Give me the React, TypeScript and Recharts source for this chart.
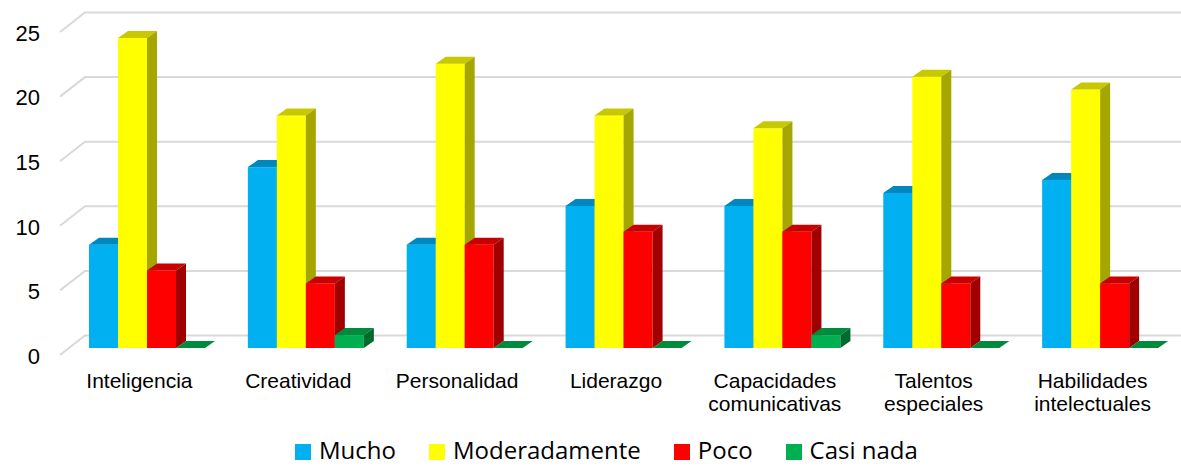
import React from "react"
import { BarChart, Bar, XAxis, YAxis, CartesianGrid } from "recharts"

const categories = [
  "Inteligencia",
  "Creatividad",
  "Personalidad",
  "Liderazgo",
  "Capacidades comunicativas",
  "Talentos especiales",
  "Habilidades intelectuales",
]
const mucho = [8, 14, 8, 11, 11, 12, 13]
const moderadamente = [24, 18, 22, 18, 17, 21, 20]
const poco = [6, 5, 8, 9, 9, 5, 5]
const casiNada = [0, 1, 0, 0, 1, 0, 0]
const yTicks = [0, 5, 10, 15, 20, 25]

const series = [
  { key: "mucho", name: "Mucho", values: mucho, front: "#00B0F0", top: "#0088BE", side: "#006F9C" },
  { key: "moderadamente", name: "Moderadamente", values: moderadamente, front: "#FFFF00", top: "#C8C800", side: "#A6A600" },
  { key: "poco", name: "Poco", values: poco, front: "#FF0000", top: "#C80000", side: "#A00000" },
  { key: "casiNada", name: "Casi nada", values: casiNada, front: "#00B050", top: "#008A3C", side: "#006B2C" },
]

const data = categories.map((name, i) => {
  const row: Record<string, string | number> = { name }
  series.forEach((s) => (row[s.key] = s.values[i]))
  return row
})

// fake 3d: bar sits a bit behind the front plane
const LIFT = 7
const DX = 10
const DY = 7

function Box3D(props: any) {
  const { x, y, width, height, front, top, side } = props
  if (x == null || y == null) return null
  const w = width
  const yt = y - LIFT
  const yb = y + height - LIFT
  return (
    <g>
      {height > 0 && <rect x={x} y={yt} width={w} height={yb - yt} fill={front} />}
      <polygon
        points={`${x},${yt} ${x + DX},${yt - DY} ${x + w + DX},${yt - DY} ${x + w},${yt}`}
        fill={top}
      />
      {height > 0 && (
        <polygon
          points={`${x + w},${yt} ${x + w + DX},${yt - DY} ${x + w + DX},${yb - DY} ${x + w},${yb}`}
          fill={side}
        />
      )}
    </g>
  )
}

function GridLine(props: any) {
  const { x1, y1, x2 } = props
  return (
    <path
      d={`M${x1 - 7},${y1} L${x1 + 18},${y1 - 19.5} L${x2 + 3},${y1 - 19.5}`}
      stroke="#D9D9D9"
      strokeWidth={2}
      fill="none"
    />
  )
}

function CategoryTick(props: any) {
  const { x, y, payload } = props
  const lines = String(payload.value).split(" ")
  return (
    <text
      x={x - 7}
      y={y + 25}
      textAnchor="middle"
      fontFamily="'Liberation Sans', Arial, sans-serif"
      fontSize={21}
      fill="#000"
    >
      {lines.map((l, i) => (
        <tspan key={i} x={x - 7} dy={i === 0 ? 0 : 23}>
          {l}
        </tspan>
      ))}
    </text>
  )
}

export default function App() {
  return (
    <div style={{ position: "absolute", left: 0, top: 0, width: 1181, height: 467, background: "#fff" }}>
      <BarChart
        width={1181}
        height={467}
        data={data}
        margin={{ top: 32, right: 2, left: 0, bottom: 0 }}
        barCategoryGap={22}
        barGap={0}
      >
        <CartesianGrid vertical={false} horizontal={(p: any) => <GridLine {...p} />} />
        <XAxis
          dataKey="name"
          axisLine={false}
          tickLine={false}
          height={112}
          interval={0}
          tick={<CategoryTick />}
        />
        <YAxis
          domain={[0, 25]}
          ticks={yTicks}
          width={67}
          axisLine={false}
          tickLine={false}
          tickSize={0}
          tickMargin={27}
          tick={{ fontSize: 22, fill: "#000", fontFamily: "'Liberation Sans', Arial, sans-serif", dy: 1 }}
        />
        {series.map((s) => (
          <Bar
            key={s.key}
            dataKey={s.key}
            name={s.name}
            fill={s.front}
            isAnimationActive={false}
            shape={(p: any) => <Box3D {...p} front={s.front} top={s.top} side={s.side} />}
          />
        ))}
      </BarChart>
      <div
        style={{
          position: "absolute",
          top: 438,
          left: 295,
          display: "flex",
          alignItems: "center",
          fontFamily: "'Open Sans', sans-serif",
          fontSize: 24,
          lineHeight: "24px",
          color: "#000",
          whiteSpace: "nowrap",
        }}
      >
        {series.map((s) => (
          <span key={s.key} style={{ display: "flex", alignItems: "center", marginRight: 33 }}>
            <span style={{ width: 16, height: 16, background: s.front, marginRight: 8, marginTop: 4 }} />
            {s.name}
          </span>
        ))}
      </div>
    </div>
  )
}
